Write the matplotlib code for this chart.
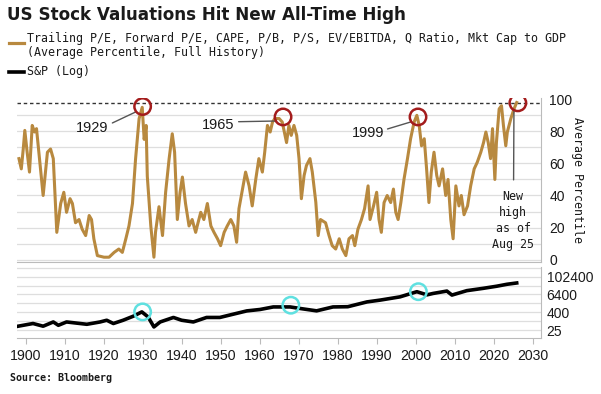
import numpy as np
import matplotlib
matplotlib.use("Agg")
import matplotlib.pyplot as plt
from matplotlib.lines import Line2D

# valuation composite, average percentile
val_years = [1898.2, 1898.8, 1899.3, 1899.7, 1900.3, 1900.9, 1901.6, 1902.2, 1902.7, 1903.3,
             1904.4, 1905.5, 1906.3, 1907.0, 1907.9, 1908.9, 1909.7, 1910.4, 1911.3, 1911.9,
             1912.7, 1913.6, 1914.4, 1915.3, 1916.2, 1916.8, 1917.4, 1918.3, 1920.0, 1921.3,
             1922.6, 1923.8, 1924.7, 1925.6, 1926.4, 1927.3, 1928.1, 1929.0, 1929.8, 1930.3,
             1930.8, 1931.1, 1932.0, 1932.8, 1933.2, 1934.1, 1935.0, 1935.8, 1936.7, 1937.5,
             1938.1, 1938.8, 1939.5, 1940.1, 1940.9, 1941.8, 1942.6, 1943.5, 1943.9, 1944.8,
             1945.6, 1946.5, 1947.4, 1948.2, 1949.1, 1949.9, 1950.8, 1951.6, 1952.5, 1953.3,
             1954.0, 1954.6, 1955.5, 1956.3, 1957.2, 1958.0, 1958.9, 1959.7, 1960.6, 1961.2,
             1961.9, 1962.6, 1963.2, 1963.8, 1964.9, 1965.7, 1966.8, 1967.4, 1968.0, 1968.7,
             1969.4, 1970.0, 1970.6, 1971.3, 1971.9, 1972.8, 1973.4, 1974.3, 1974.9, 1975.5,
             1976.8, 1977.7, 1978.5, 1979.4, 1980.3, 1981.1, 1982.0, 1982.8, 1983.7, 1984.3,
             1985.1, 1986.0, 1986.8, 1987.7, 1988.2, 1989.1, 1989.9, 1990.5, 1991.1, 1991.8,
             1992.6, 1993.5, 1994.2, 1994.8, 1995.4, 1996.1, 1996.9, 1997.8, 1998.6, 1999.5,
             2000.2, 2000.8, 2001.4, 2002.1, 2002.7, 2003.3, 2003.9, 2004.6, 2005.3, 2005.9,
             2006.8, 2007.6, 2008.2, 2008.9, 2009.5, 2010.2, 2011.0, 2011.6, 2012.3, 2013.2,
             2014.0, 2014.9, 2015.7, 2016.6, 2017.3, 2017.9, 2018.5, 2019.1, 2019.6, 2020.2,
             2020.6, 2021.3, 2021.9, 2022.4, 2023.0, 2023.4, 2024.3, 2025.1, 2025.8]
val_pct = [63, 56.6, 69, 80.6, 67, 54.6, 83.7, 79.6, 81.7, 67,
           40, 67, 69, 63, 17, 35, 42, 29.5, 38, 35,
           23, 25, 19, 15, 27.5, 25, 13, 2.5, 1.5, 1.5,
           4.5, 6.6, 4.5, 13, 21, 35, 63, 88, 95, 75,
           83.7, 52, 21, 1.5, 17, 33, 15, 42, 63, 78.5,
           67, 25, 42, 51.5, 35, 21, 25, 17, 21, 29.5,
           25, 35, 21, 17, 13, 8.7, 17, 21, 25, 21,
           10.8, 31.8, 44, 54.6, 46, 33.5, 50, 63, 54.6, 67,
           83.7, 79.6, 85.8, 88, 88, 85.8, 73, 83.7, 77.5, 83.7,
           77.5, 63, 38, 52.5, 58.7, 63, 54.6, 35.8, 15, 25,
           23, 15, 8.7, 6.6, 13, 6.6, 2.5, 13, 15, 8.7,
           19, 25, 31.8, 46, 25, 33.5, 42, 25, 17, 35.6,
           40, 35.6, 44, 29.5, 25, 35.6, 50, 63, 75.4, 85.8,
           90, 83.7, 71, 75.4, 56.6, 35.6, 54.6, 67, 52.5, 46,
           56.6, 40, 50, 25, 13, 46, 33.5, 40, 28, 33.5,
           46, 56.6, 60.8, 67, 73, 79.6, 73, 63, 81.7, 50,
           73, 94, 96, 83.7, 71, 79.6, 88, 94, 98]

# S&P (log scale)
spx_years = [1898.0, 1901.8, 1904.4, 1907.0, 1908.3, 1910.4, 1915.6, 1919.0, 1920.7, 1922.4,
             1924.9, 1927.5, 1929.7, 1931.3, 1932.8, 1934.4, 1937.8, 1939.9, 1942.9, 1946.3,
             1949.7, 1953.1, 1956.6, 1960.0, 1963.4, 1967.7, 1970.3, 1974.5, 1978.7, 1982.5,
             1987.4, 1990.8, 1995.9, 2000.2, 2002.8, 2004.4, 2007.9, 2009.2, 2013.0, 2017.2,
             2020.7, 2023.3, 2025.8]
spx_level = [46, 70, 46, 89, 53, 89, 62, 89, 116, 70,
             116, 217, 425, 195, 41, 89, 179, 116, 89, 179,
             179, 296, 495, 618, 918, 918, 720, 500, 918, 950,
             2000, 2650, 4400, 9800, 6000, 7500, 10800, 5800, 11500, 16500,
             23000, 31000, 38000]

# highlighted peaks
peak_years = [1929.9, 1965.9, 2000.5, 2026.1]
peak_pct = [95.5, 89, 89, 97.8]
peak_labels = ["1929", "1965", "1999", "New\nhigh\nas of\nAug 25"]
spx_mark_years = [1929.9, 1967.9, 2000.6]
spx_mark_level = [425, 1200, 9800]

tan = '#b8893f'
grid_c = '#dedede'
txt = '#1a1a1a'
sans = 'Liberation Sans'
mono = 'DejaVu Sans Mono'

fig = plt.figure(figsize=(6.01, 3.94), dpi=100)

# top panel
ax = fig.add_axes([0.0283, 0.335, 0.872, 0.417])
ax.plot(val_years, val_pct, color=tan, lw=2.2, zorder=3)
ax.set_xlim(1897.7, 2032.05)
ax.set_ylim(-1.5, 101)
for g in range(0, 100, 10):
    ax.axhline(g, color=grid_c, lw=0.9, zorder=1)
ax.axhline(97.8, color='#333333', lw=1, ls=(0, (2.5, 2)), zorder=2)
ax.yaxis.tick_right()
ax.set_yticks(range(0, 101, 20))
ax.tick_params(axis='y', length=0, pad=6, labelsize=10, labelcolor=txt)
for lab in ax.get_yticklabels():
    lab.set_family(sans)
ax.set_xticks([])
for s in ['top', 'left']:
    ax.spines[s].set_visible(False)
for s in ['right', 'bottom']:
    ax.spines[s].set_color('#bbbbbb')
ax.yaxis.set_label_position('right')
ax.set_ylabel('Average Percentile', rotation=-90, family=mono, fontsize=8.4,
              color=txt, labelpad=8)

ax.scatter(peak_years, peak_pct, s=140, facecolors='none', edgecolors='#a31c1c',
           linewidths=1.8, zorder=5)
label_pos = [(1916.9, 82), (1949.2, 84), (1987.8, 79), (2024.9, 24.5)]
line_start = [(1921.5, 84.5), (1953.8, 86), (1992.0, 81), (2025.0, 48)]
for i in range(4):
    ax.annotate('', xy=(peak_years[i] - 1.0, peak_pct[i] - 2.5), xytext=line_start[i],
                arrowprops=dict(arrowstyle='-', color='#555555', lw=1), zorder=4)
    if i < 3:
        ax.text(label_pos[i][0], label_pos[i][1], peak_labels[i], ha='center',
                va='center', fontsize=10.5, family=sans, color=txt)
    else:
        ax.text(label_pos[i][0], label_pos[i][1], peak_labels[i], ha='center',
                va='center', fontsize=8.4, family=mono, color=txt, linespacing=1.3)

# bottom panel
ax2 = fig.add_axes([0.0283, 0.142, 0.872, 0.18])
ax2.plot(spx_years, spx_level, color='black', lw=2.6, zorder=3)
ax2.set_yscale('log', base=2)
ax2.set_xlim(1897.7, 2032.05)
ax2.set_ylim(7.3, 445000)
for k in range(0, 8):
    ax2.axhline(25 * 4 ** k, color=grid_c, lw=0.9, zorder=1)
ax2.scatter(spx_mark_years, spx_mark_level, s=140, facecolors='none',
            edgecolors='#5fe0e0', linewidths=1.8, zorder=5)
ax2.yaxis.tick_right()
ax2.set_yticks([25, 400, 6400, 102400])
ax2.set_yticklabels(['25', '400', '6400', '102400'])
ax2.yaxis.set_minor_locator(matplotlib.ticker.NullLocator())
ax2.tick_params(axis='y', length=0, pad=4, labelsize=10, labelcolor=txt)
ax2.set_xticks(range(1900, 2031, 10))
ax2.tick_params(axis='x', length=4, color='#bbbbbb', labelsize=10.2, labelcolor=txt, pad=4)
for lab in ax2.get_yticklabels() + ax2.get_xticklabels():
    lab.set_family(sans)
for s in ['top', 'left']:
    ax2.spines[s].set_visible(False)
for s in ['right', 'bottom']:
    ax2.spines[s].set_color('#bbbbbb')

# title and legend
fig.text(0.012, 0.962, 'US Stock Valuations Hit New All-Time High', fontsize=12.1,
         fontweight='bold', color=txt, va='center')
fig.text(0.045, 0.885, 'Trailing P/E, Forward P/E, CAPE, P/B, P/S, EV/EBITDA, Q Ratio, Mkt Cap to GDP\n'
         '(Average Percentile, Full History)', family=mono, fontsize=8.35, color=txt,
         va='center', linespacing=1.1)
fig.text(0.045, 0.818, 'S&P (Log)', family=mono, fontsize=8.35, color=txt, va='center')
fig.add_artist(Line2D([0.015, 0.04], [0.89, 0.89], color=tan, lw=2.3))
fig.add_artist(Line2D([0.015, 0.04], [0.818, 0.818], color='black', lw=2.6))
fig.text(0.016, 0.04, 'Source: Bloomberg', family=mono, fontsize=7.2,
         fontweight='bold', color=txt, va='center')

fig.savefig('out.png', dpi=100, facecolor='white')
